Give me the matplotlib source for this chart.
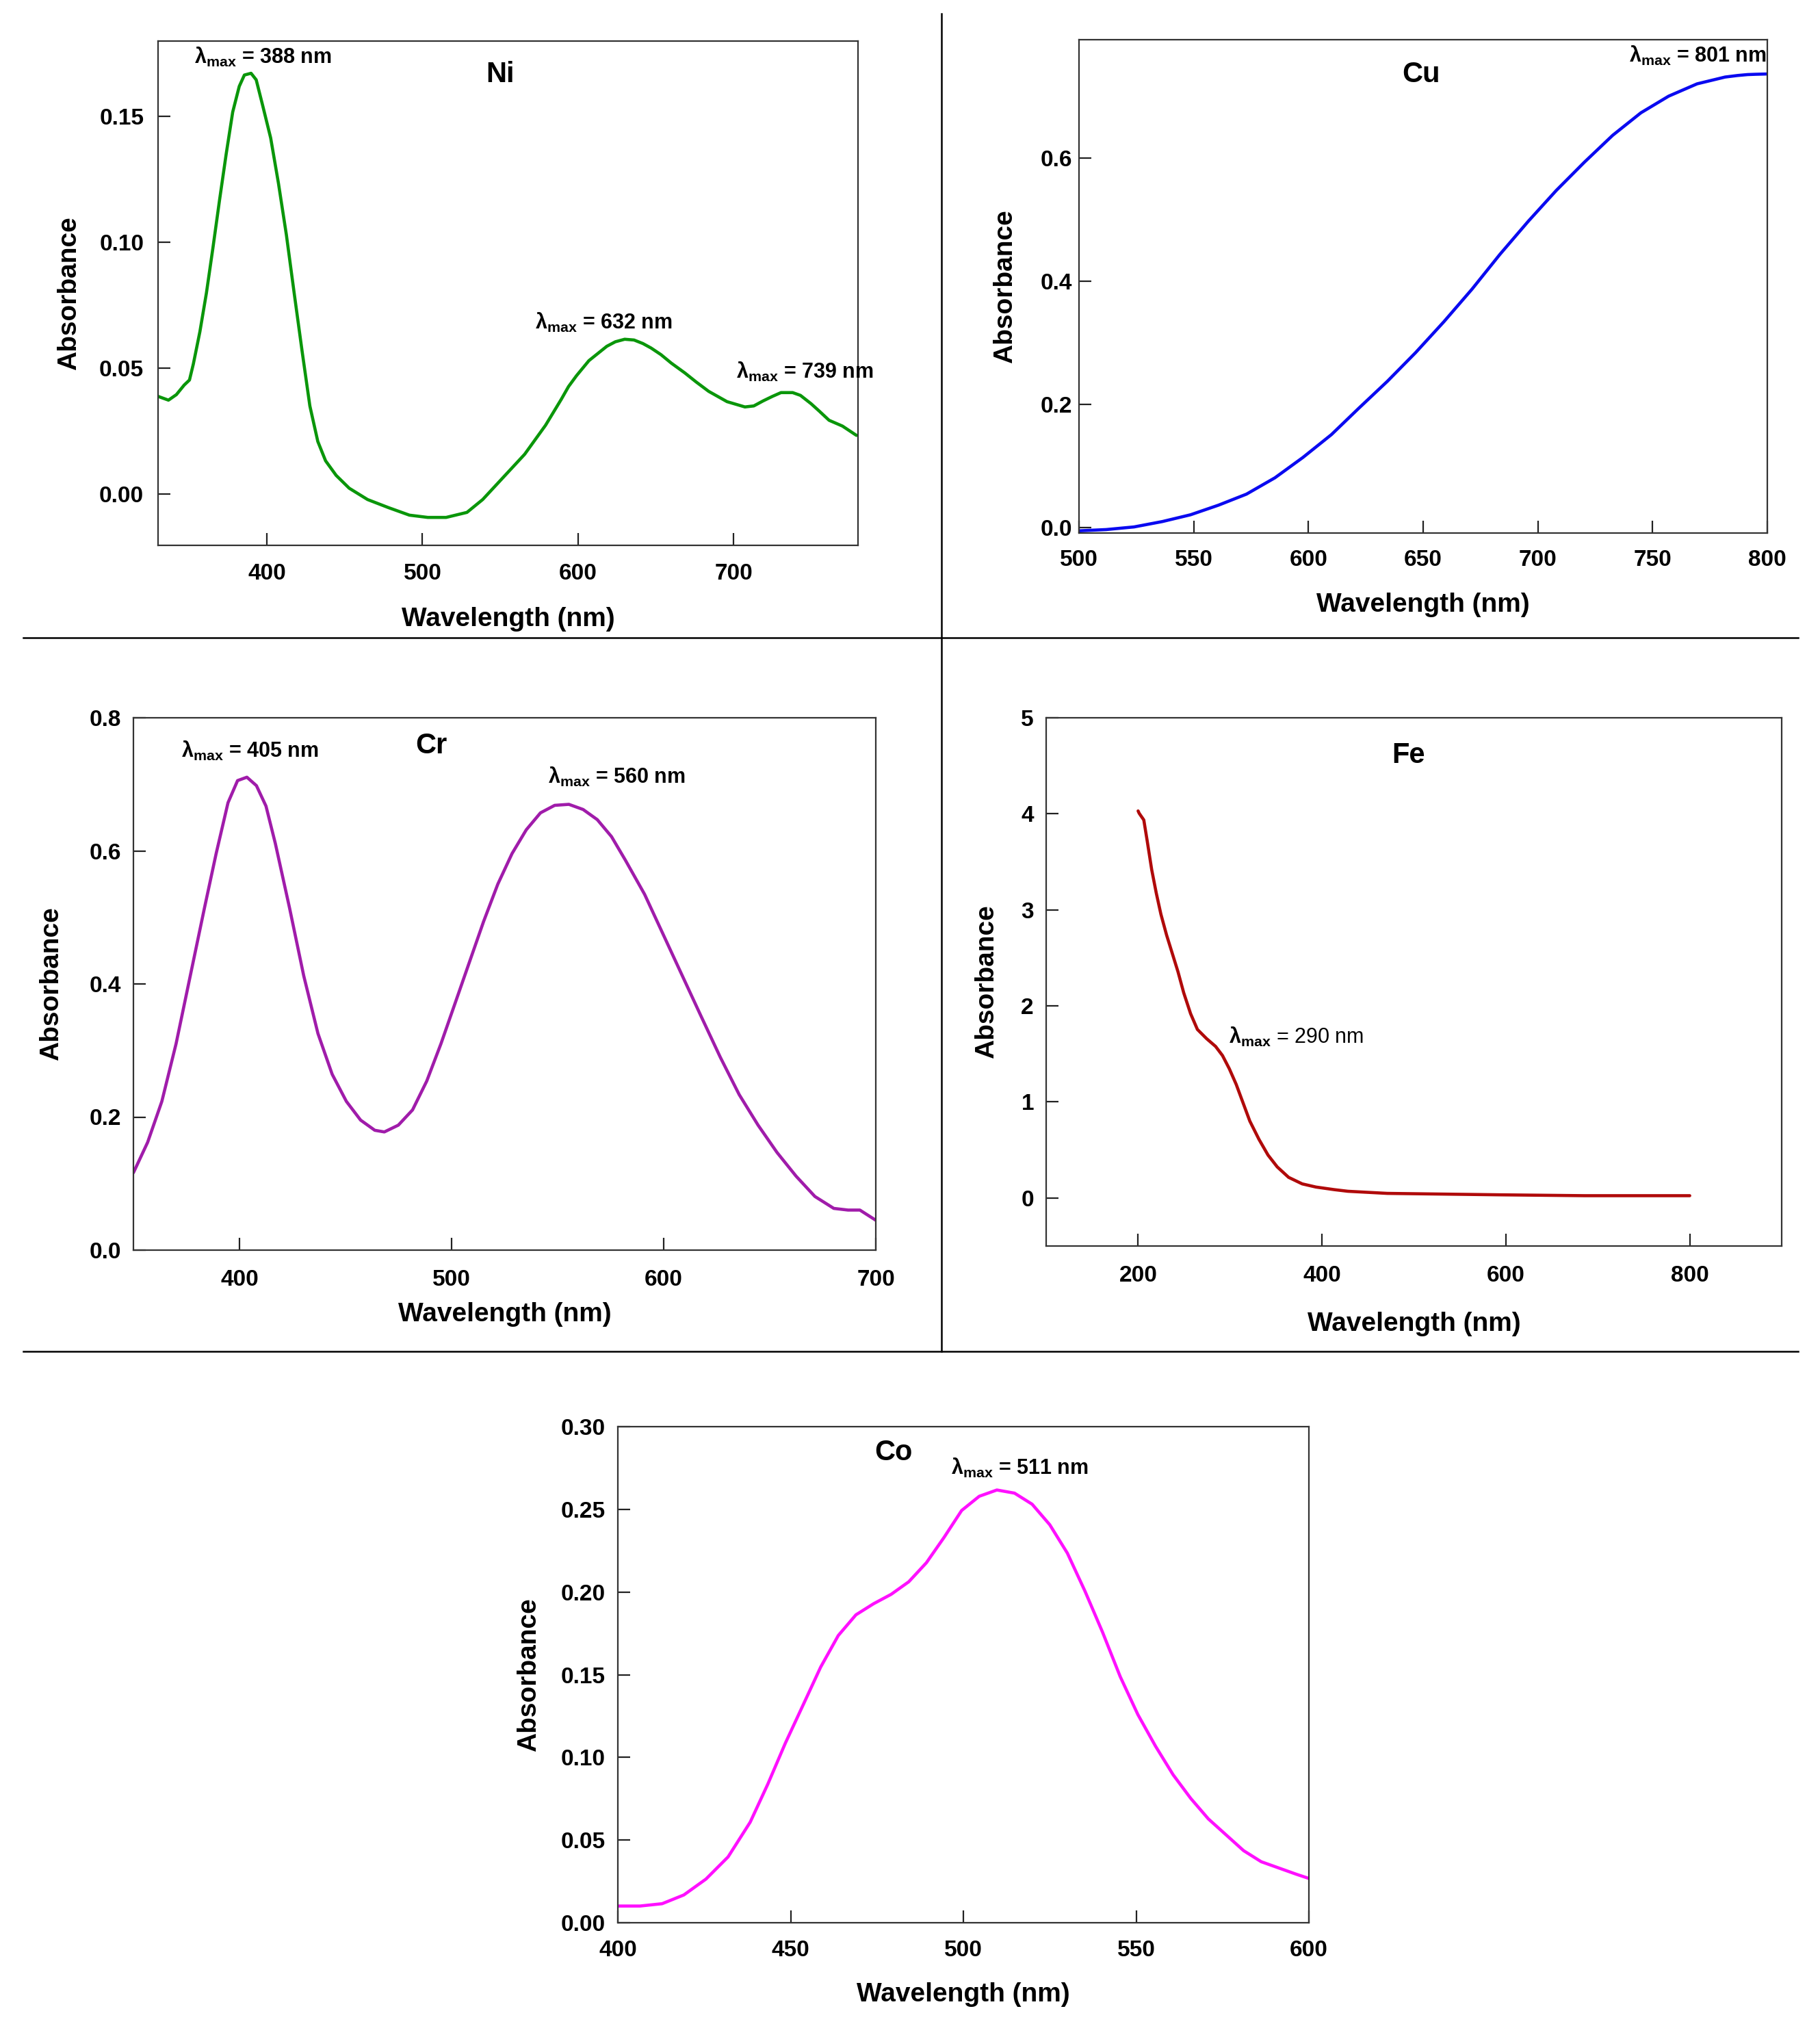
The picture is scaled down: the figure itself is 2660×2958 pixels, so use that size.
import matplotlib
matplotlib.use("Agg")
import matplotlib.pyplot as plt
from matplotlib.lines import Line2D

plt.rcParams["font.family"] = ["Liberation Sans", "DejaVu Sans"]
plt.rcParams["font.weight"] = "bold"
plt.rcParams["mathtext.fontset"] = "custom"
plt.rcParams["mathtext.rm"] = "Liberation Sans"
plt.rcParams["mathtext.it"] = "Liberation Sans:italic"
plt.rcParams["mathtext.bf"] = "Liberation Sans:bold"

# --- data ---
ni_wl = [330, 336.7, 341.8, 346.8, 350.2, 352.7, 356.9, 361.1, 365.3, 369.6, 373.8, 378,
         382.2, 385.5, 389.8, 393.1, 397.3, 402.4, 407.4, 412.5, 417.5, 422.6, 427.6,
         432.7, 437.7, 444.5, 452.9, 464.7, 478.1, 491.6, 503.4, 515.2, 528.6, 538.7,
         552.2, 565.7, 579.1, 589.2, 593.9, 599, 607, 618.5, 624, 630, 636, 641.7, 647,
         653.3, 660, 668.7, 676, 684, 695.8, 707.3, 713, 719, 725, 730.5, 738, 743,
         749.8, 755, 761.4, 770, 779]
ni_abs = [0.0388, 0.0373, 0.0395, 0.0433, 0.0453, 0.0517, 0.0645, 0.0799, 0.0979, 0.1171,
          0.1351, 0.1518, 0.1620, 0.1665, 0.1672, 0.1646, 0.1543, 0.1415, 0.1235, 0.1030,
          0.0799, 0.0568, 0.0350, 0.0209, 0.0132, 0.0074, 0.0023, -0.0022, -0.0054,
          -0.0084, -0.0093, -0.0093, -0.0073, -0.0022, 0.0068, 0.0158, 0.0273, 0.0376,
          0.0427, 0.047, 0.053, 0.0587, 0.0605, 0.0615, 0.0612, 0.0598, 0.058, 0.0554,
          0.052, 0.0481, 0.0445, 0.0408, 0.0367, 0.0346, 0.035, 0.037, 0.0388, 0.0403,
          0.0403, 0.0392, 0.0359, 0.033, 0.0293, 0.027, 0.0233]

cu_wl = [500, 511.8, 524, 536.3, 548.6, 560.8, 573, 585.4, 597.6, 610, 622, 634.4,
         646.7, 659, 671.3, 683.5, 695.8, 708, 720.3, 732.6, 744.9, 757, 769.4, 781.6,
         787, 791.4, 795, 800]
cu_abs = [-0.005, -0.003, 0.0013, 0.010, 0.021, 0.0366, 0.0545, 0.081, 0.114, 0.151,
          0.194, 0.2375, 0.284, 0.334, 0.387, 0.4436, 0.497, 0.547, 0.593, 0.6365,
          0.673, 0.700, 0.720, 0.731, 0.7335, 0.735, 0.7355, 0.736]

cr_wl = [350, 356.7, 363.4, 370.1, 376.8, 383.5, 389, 394.6, 399.1, 403.5, 408, 412.5,
         416.9, 423.6, 430.3, 437, 443.7, 450.4, 457.1, 463.8, 468.3, 474.9, 481.6,
         488.3, 495, 501.7, 508.4, 515.1, 521.8, 528.5, 535.2, 541.9, 548.6, 555.3, 562,
         568.7, 575.4, 582, 591, 599.9, 608.8, 617.7, 626.7, 635.6, 644.5, 653.4, 662.4,
         671.3, 680.2, 686.9, 692.5, 700]
cr_abs = [0.1163, 0.162, 0.2235, 0.310, 0.4122, 0.5143, 0.5959, 0.6724, 0.7056, 0.7107,
          0.698, 0.6673, 0.6112, 0.5143, 0.4122, 0.3255, 0.2643, 0.2235, 0.1954, 0.1801,
          0.1776, 0.1878, 0.2107, 0.2541, 0.3102, 0.3714, 0.4327, 0.4939, 0.550, 0.5959,
          0.6316, 0.6571, 0.6684, 0.6699, 0.6622, 0.6469, 0.6214, 0.5857, 0.5347, 0.4735,
          0.4122, 0.351, 0.2898, 0.2337, 0.1878, 0.1469, 0.1112, 0.0806, 0.0627, 0.0602,
          0.0602, 0.0449]

fe_wl = [200, 201.2, 206.2, 209.9, 214.8, 219.8, 224.8, 231, 237.2, 243.4, 249.6, 257.1,
         264.5, 274.4, 284.3, 291.8, 299.2, 306.7, 314.1, 321.5, 331.5, 341.3, 351.3,
         363.7, 378.5, 393.4, 413.3, 428.2, 471, 593.6, 685.4, 746.6, 800]
fe_abs = [4.03, 4.005, 3.936, 3.718, 3.418, 3.173, 2.955, 2.737, 2.546, 2.355, 2.137,
          1.919, 1.755, 1.66, 1.578, 1.483, 1.346, 1.183, 0.992, 0.801, 0.610, 0.447,
          0.324, 0.215, 0.147, 0.114, 0.087, 0.070, 0.048, 0.033, 0.024, 0.024, 0.024]

co_wl = [400, 406.4, 412.8, 419.1, 425.5, 431.9, 438.3, 443.4, 448.5, 453.6, 458.7,
         463.8, 468.9, 474, 479.1, 484.2, 489.3, 494.4, 499.5, 504.6, 509.7, 514.8,
         519.9, 525, 530.1, 535.2, 540.3, 545.4, 550.5, 555.6, 560.7, 565.8, 570.9, 576,
         581.1, 586.2, 591.3, 596.4, 600]
co_abs = [0.0101, 0.0101, 0.0115, 0.0168, 0.0264, 0.0398, 0.0608, 0.0838, 0.1087, 0.1316,
          0.1546, 0.1737, 0.1862, 0.1929, 0.1986, 0.2062, 0.2177, 0.233, 0.2493, 0.2579,
          0.2617, 0.2598, 0.2531, 0.2407, 0.2235, 0.2005, 0.1756, 0.1488, 0.1259, 0.1068,
          0.0895, 0.0752, 0.0628, 0.0532, 0.0436, 0.0369, 0.0331, 0.0293, 0.0268]

W, H = 2660, 2958
fig = plt.figure(figsize=(W / 100, H / 100), dpi=100)


def px_axes(left, top, right, bottom):
    return fig.add_axes([left / W, 1 - bottom / H, (right - left) / W, (bottom - top) / H])


def style(ax, xlim, ylim, xticks, yticks, yfmt, title, title_pos,
          xlab_off, ylab_off, ypad=13, xpad=19):
    ax.set_xlim(*xlim)
    ax.set_ylim(*ylim)
    ax.set_xticks(xticks)
    ax.set_yticks(yticks)
    ax.set_yticklabels([yfmt.format(v) for v in yticks])
    ax.tick_params(direction="in", length=13, width=1.6, labelsize=24, color="#222222")
    ax.tick_params(axis="y", pad=ypad)
    ax.tick_params(axis="x", pad=xpad)
    for s in ax.spines.values():
        s.set_linewidth(1.6)
        s.set_color("#333333")
    ax.set_xlabel("Wavelength (nm)", fontsize=28, fontweight="bold", va="center")
    ax.set_ylabel("Absorbance", fontsize=28, fontweight="bold", va="center")
    bb = ax.get_position()
    ax.xaxis.set_label_coords(0.5, -xlab_off / (bb.height * H))
    ax.yaxis.set_label_coords(-ylab_off / (bb.width * W), 0.5)
    ax.text(title_pos[0], title_pos[1], title, transform=ax.transAxes, fontsize=30,
            fontweight="bold", ha="center", va="center")


def curve(ax, x, y, color):
    ax.plot(x, y, color=color, lw=3.3, solid_joinstyle="round", solid_capstyle="round")


def lam(ax, x, y, nm, bold=True):
    ax.text(x, y, r"$\mathrm{\lambda}_{\mathrm{max}}$" + f" = {nm} nm", fontsize=22,
            fontweight="bold" if bold else "normal", ha="center", va="center")


# Ni
ax = px_axes(231, 60, 1254, 797)
curve(ax, ni_wl, ni_abs, "#0a960a")
style(ax, (330, 780), (-0.0204, 0.180), [400, 500, 600, 700], [0.00, 0.05, 0.10, 0.15],
      "{:.2f}", "Ni", (0.489, 0.933), 108, 130, ypad=15)
lam(ax, 397.5, 0.1735, 388)
lam(ax, 616.5, 0.068, 632)
lam(ax, 745.9, 0.0486, 739)

# Cu
ax = px_axes(1577, 58, 2583, 779)
curve(ax, cu_wl, cu_abs, "#0a0af0")
style(ax, (500, 800), (-0.0086, 0.7916), [500, 550, 600, 650, 700, 750, 800],
      [0.0, 0.2, 0.4, 0.6], "{:.1f}", "Cu", (0.497, 0.929), 105, 108, ypad=7, xpad=17)
lam(ax, 769.6, 0.766, 801)

# Cr
ax = px_axes(195, 1049, 1280, 1827)
curve(ax, cr_wl, cr_abs, "#a01caa")
style(ax, (350, 700), (0.0, 0.8), [400, 500, 600, 700], [0.0, 0.2, 0.4, 0.6, 0.8],
      "{:.1f}", "Cr", (0.401, 0.947), 94, 120, xpad=20)
lam(ax, 404.9, 0.750, 405)
lam(ax, 578, 0.711, 560)

# Fe
ax = px_axes(1529, 1049, 2604, 1821)
curve(ax, fe_wl, fe_abs, "#b00a0a")
style(ax, (100, 900), (-0.5, 5.0), [200, 400, 600, 800], [0, 1, 2, 3, 4, 5],
      "{:.0f}", "Fe", (0.493, 0.929), 114, 87, xpad=20)
lam(ax, 372.4, 1.676, 290, bold=False)

# Co
ax = px_axes(903, 2085, 1913, 2810)
curve(ax, co_wl, co_abs, "#ff10ff")
style(ax, (400, 600), (0.0, 0.30), [400, 450, 500, 550, 600],
      [0.00, 0.05, 0.10, 0.15, 0.20, 0.25, 0.30], "{:.2f}", "Co", (0.399, 0.948),
      105, 130, xpad=18)
lam(ax, 516.4, 0.275, 511)

# panel separators
for xs, ys in [((34, 2628), (932, 932)), ((34, 2628), (1975, 1975)), ((1376, 1376), (20, 1975))]:
    fig.add_artist(Line2D([x / W for x in xs], [1 - y / H for y in ys],
                          transform=fig.transFigure, color="black", lw=1.8))

fig.savefig("out.png", dpi=100, facecolor="white")
